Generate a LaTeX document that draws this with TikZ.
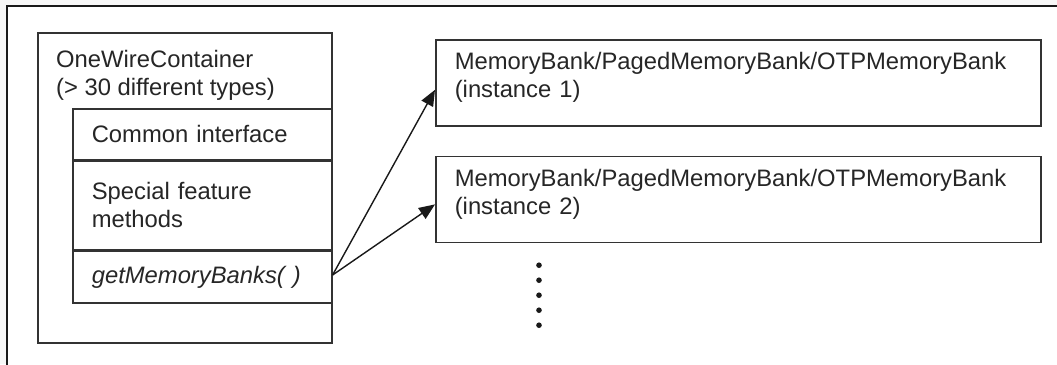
\documentclass[tikz,border=0pt]{standalone}
\usepackage{fontspec}
\setmainfont{Liberation Sans}
\usetikzlibrary{positioning, arrows.meta, math, calc}

\begin{document}
\begin{tikzpicture}[x=1pt, y=-1pt]
		\tikzmath{
			\cellW       = 259;  %width of the method cells
			\bankW       = 605;  %width of the memory bank boxes
			\bankH       = 86;   %height of the memory bank boxes
			\bankDist    = 29;   %distance between the bank boxes
			\pad         = 19;   %text indent inside the boxes
		}
		\tikzstyle{Base} = [
			draw=black!80,
			line width=1.6pt,
			rectangle,
			fill=white,
			text=black!85,
			font=\fontsize{23.8pt}{28pt}\selectfont,
		]
		\tikzstyle{Cell} = [
			Base,
			align=left,
			inner xsep=\pad pt,
			inner ysep=0pt,
			text width=\cellW pt - 2*\pad pt,
			minimum width=\cellW pt,
		]
		\tikzstyle{Bank} = [
			Base,
			align=left,
			inner xsep=\pad pt,
			inner ysep=0pt,
			text width=\bankW pt - 2*\pad pt,
			minimum width=\bankW pt,
			minimum height=\bankH pt,
			text depth=44pt,
		]
		\tikzstyle{Link} = [
			draw=black!90,
			line width=1.4pt,
			-{Triangle[length=16pt, width=13pt]}
		]
		
		%%%%%%%%%%%%%%%%%%%%%%%%%%===---FRAME---===%%%%%%%%%%%%%%%%%%%%%%%%%%
		\useasboundingbox (0,0) rectangle (1057,364);
		\clip (0,0) rectangle (1057,364);
		\fill [gray!6] (0,0) rectangle (1057,364);
		\filldraw [fill=white, draw=black!90, line width=2pt] (7,6) rectangle (1075,385);
		%%%%%%%%%%%%%%%%%%%%%%%%%%===---CONTAINER---===%%%%%%%%%%%%%%%%%%%%%%%%%%
		\node (container) [Base, minimum width=294pt, minimum height=310pt, anchor=north west] at (37,32) {};
		\node (title) [anchor=north west, inner sep=0pt, align=left, text=black!85,
			font=\fontsize{23.8pt}{28pt}\selectfont] at ($(container.north west) + (\pad,18)$)
			{OneWireContainer\\(> 30 different types)};
			\node (common) [Cell, minimum height=51pt, anchor=north west] at ($(container.north west) + (35,76)$) {Common interface};
			\node (special) [Cell, minimum height=88pt, below = 0pt of common] {Special feature\\methods};
			\node (getmb) [Cell, minimum height=52pt, below = 0pt of special] {\textit{getMemoryBanks( )}};
		%%%%%%%%%%%%%%%%%%%%%%%%%%===---MEMORY BANKS---===%%%%%%%%%%%%%%%%%%%%%%%%%%
		\node (bank1) [Bank, anchor=north west] at (435,39) {MemoryBank/PagedMemoryBank/OTPMemoryBank\\(instance 1)};
		\node (bank2) [Bank, below = \bankDist pt of bank1] {MemoryBank/PagedMemoryBank/OTPMemoryBank\\(instance 2)};
		\coordinate (dots) at ($(bank2.south west) + (104,22)$);
		\foreach \i in {0,...,4}
			\fill [black!90] ($(dots) + (0,15*\i)$) circle (2.8pt);
		%%%%%%%%%%%%%%%%%%%%%%%%%%===---LINKS---===%%%%%%%%%%%%%%%%%%%%%%%%%%
		\draw [Link] ([yshift=2pt]getmb.east) -- ([yshift=-7pt]bank1.west);
		\draw [Link] ([yshift=2pt]getmb.east) -- ([yshift=-5pt]bank2.west);
		
	\end{tikzpicture}
\end{document}
